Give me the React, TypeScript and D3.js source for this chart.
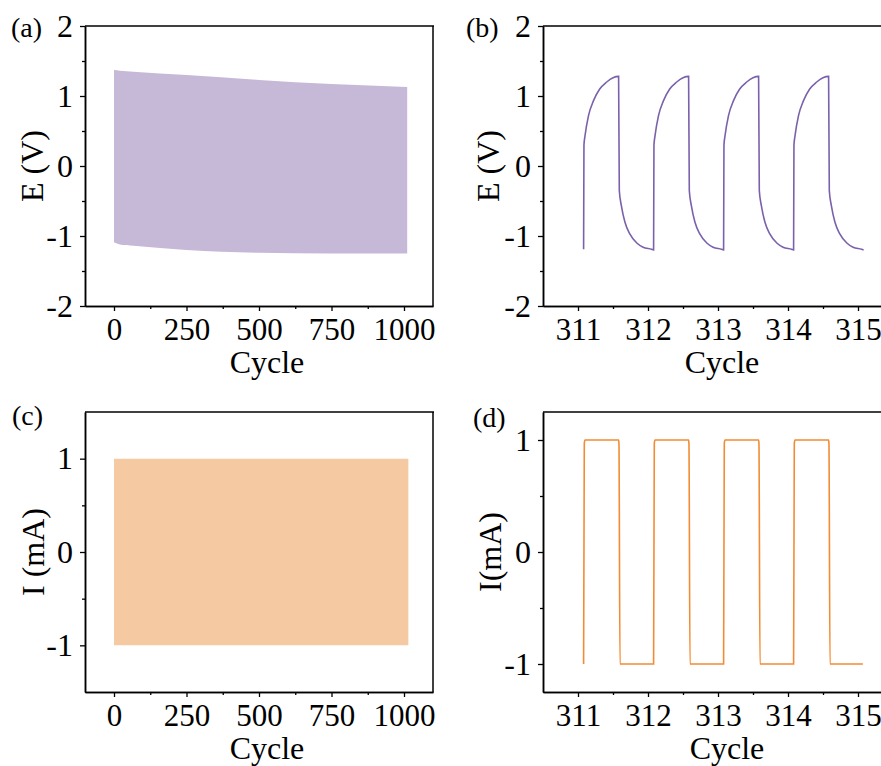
import React, { useEffect, useRef } from "react";
import * as d3 from "d3";

// panel (a): envelope of E over the whole run
const envCycle = [0, 20, 67, 250, 500, 750, 1011];
const envTop = [1.37, 1.36, 1.345, 1.3, 1.23, 1.17, 1.13];
const envBottom = [-1.09, -1.12, -1.14, -1.2, -1.24, -1.25, -1.25];

// panel (b): one charge/discharge profile, offset from cycle start
const eOffset = [0, 0.005, 0.02, 0.07, 0.14, 0.23, 0.33, 0.42, 0.5, 0.51, 0.54, 0.59, 0.66, 0.76, 0.85, 0.97, 1.0];
const eValue = [-1.19, 0.3, 0.43, 0.72, 0.93, 1.1, 1.2, 1.26, 1.28, -0.35, -0.57, -0.8, -0.97, -1.1, -1.16, -1.19, -1.2];
const cycleStarts = [311.08, 312.08, 313.08, 314.08];

// panel (c): current envelope
const curCycle = [0, 1015];
const curTop = [1, 1];
const curBottom = [-1, -1];

// panel (d): current profile
const iOffset = [0, 0.01, 0.02, 0.5, 0.505, 0.52, 0.99];
const iValue = [-1, 0.97, 1, 1, 0.97, -1, -1];

const purpleFill = "#c6b9d7";
const purpleLine = "#7b61ab";
const orangeFill = "#f5c9a1";
const orangeLine = "#f28c34";

const font = "Liberation Serif, Times New Roman, serif";

type Panel = {
  label: string;
  ytitle: string;
  box: { l: number; r: number; t: number; b: number };
  xd: [number, number];
  yd: [number, number];
  xt: number[];
  xm: number[];
  yt: number[];
  ym: number[];
  lx: number;
  ly: number;
  titleX: number;
  cycleX: number;
  rightBorder: boolean;
};

const panels: Panel[] = [
  { label: "(a)", ytitle: "E (V)", box: { l: 85, r: 433, t: 26, b: 306 }, xd: [-100, 1100], yd: [-2, 2],
    xt: [0, 250, 500, 750, 1000], xm: [125, 375, 625, 875], yt: [-2, -1, 0, 1, 2], ym: [-1.5, -0.5, 0.5, 1.5],
    lx: 11, ly: 37, titleX: 43, cycleX: 267, rightBorder: true },
  { label: "(b)", ytitle: "E (V)", box: { l: 543, r: 893, t: 26, b: 306 }, xd: [310.5, 315.5], yd: [-2, 2],
    xt: [311, 312, 313, 314, 315], xm: [311.5, 312.5, 313.5, 314.5], yt: [-2, -1, 0, 1, 2], ym: [-1.5, -0.5, 0.5, 1.5],
    lx: 466, ly: 37, titleX: 499, cycleX: 722, rightBorder: false },
  { label: "(c)", ytitle: "I (mA)", box: { l: 85, r: 433, t: 412, b: 692 }, xd: [-100, 1100], yd: [-1.5, 1.5],
    xt: [0, 250, 500, 750, 1000], xm: [125, 375, 625, 875], yt: [-1, 0, 1], ym: [-0.5, 0.5],
    lx: 12, ly: 425, titleX: 44, cycleX: 267, rightBorder: true },
  { label: "(d)", ytitle: "I(mA)", box: { l: 543, r: 893, t: 412, b: 692 }, xd: [310.5, 315.5], yd: [-1.25, 1.25],
    xt: [311, 312, 313, 314, 315], xm: [311.5, 312.5, 313.5, 314.5], yt: [-1, 0, 1], ym: [-0.5, 0.5],
    lx: 473, ly: 427, titleX: 501, cycleX: 727, rightBorder: false },
];

export default function App() {
  const ref = useRef<SVGSVGElement>(null);

  useEffect(() => {
    const svg = d3.select(ref.current);
    svg.selectAll("*").remove();

    panels.forEach((p, i) => {
      const x = d3.scaleLinear().domain(p.xd).range([p.box.l, p.box.r]);
      const y = d3.scaleLinear().domain(p.yd).range([p.box.b, p.box.t]);
      const g = svg.append("g");

      // data
      if (i === 0 || i === 2) {
        const xs = i === 0 ? envCycle : curCycle;
        const top = i === 0 ? envTop : curTop;
        const bot = i === 0 ? envBottom : curBottom;
        const area = d3
          .area<number>()
          .x((_, k) => x(xs[k]))
          .y0((_, k) => y(bot[k]))
          .y1((d) => y(d))
          .curve(d3.curveMonotoneX);
        g.append("path")
          .attr("d", area(top))
          .attr("fill", i === 0 ? purpleFill : orangeFill);
      } else {
        const off = i === 1 ? eOffset : iOffset;
        const val = i === 1 ? eValue : iValue;
        const pts: [number, number][] = [];
        cycleStarts.forEach((s) => off.forEach((o, k) => pts.push([s + o, val[k]])));
        const line = d3
          .line<[number, number]>()
          .x((d) => x(d[0]))
          .y((d) => y(d[1]))
          .curve(d3.curveMonotoneX);
        g.append("path")
          .attr("d", line(pts))
          .attr("fill", "none")
          .attr("stroke", i === 1 ? purpleLine : orangeLine)
          .attr("stroke-width", 1.6);
      }

      // frame
      g.append("line").attr("x1", p.box.l).attr("x2", p.box.r + 1).attr("y1", p.box.t).attr("y2", p.box.t)
        .attr("stroke", "#000").attr("stroke-width", 1.5);
      if (p.rightBorder)
        g.append("line").attr("x1", p.box.r).attr("x2", p.box.r).attr("y1", p.box.t).attr("y2", p.box.b)
          .attr("stroke", "#000").attr("stroke-width", 1.5);

      const fmt = (d: d3.NumberValue) => String(d);
      const xAxis = g.append("g").attr("transform", `translate(0,${p.box.b})`)
        .call(d3.axisBottom(x).tickValues(p.xt).tickSize(5).tickSizeOuter(0).tickPadding(7).tickFormat(fmt));
      g.append("g").attr("transform", `translate(0,${p.box.b})`)
        .call(d3.axisBottom(x).tickValues(p.xm).tickSize(3).tickSizeOuter(0).tickFormat(() => ""));
      const yAxis = g.append("g").attr("transform", `translate(${p.box.l},0)`)
        .call(d3.axisLeft(y).tickValues(p.yt).tickSize(5).tickSizeOuter(0).tickPadding(7).tickFormat(fmt));
      g.append("g").attr("transform", `translate(${p.box.l},0)`)
        .call(d3.axisLeft(y).tickValues(p.ym).tickSize(3).tickSizeOuter(0).tickFormat(() => ""));

      g.selectAll(".domain").attr("stroke", "#000").attr("stroke-width", 1.5);
      g.selectAll(".tick line").attr("stroke", "#000").attr("stroke-width", 1.3);
      xAxis.selectAll("text").attr("font-family", font).attr("font-size", 31).attr("fill", "#000");
      yAxis.selectAll("text").attr("font-family", font).attr("font-size", 32).attr("fill", "#000");

      // titles
      g.append("text")
        .attr("x", p.cycleX)
        .attr("y", p.box.b + 67)
        .attr("text-anchor", "middle")
        .attr("font-family", font)
        .attr("font-size", 32)
        .text("Cycle");
      g.append("text")
        .attr("transform", `translate(${p.titleX},${(p.box.t + p.box.b) / 2}) rotate(-90)`)
        .attr("text-anchor", "middle")
        .attr("font-family", font)
        .attr("font-size", 32)
        .text(p.ytitle);
      g.append("text")
        .attr("x", p.lx)
        .attr("y", p.ly)
        .attr("font-family", font)
        .attr("font-size", 28)
        .text(p.label);
    });
  }, []);

  return (
    <svg
      ref={ref}
      width={881}
      height={766}
      style={{ position: "absolute", left: 0, top: 0, background: "#fff" }}
    />
  );
}
